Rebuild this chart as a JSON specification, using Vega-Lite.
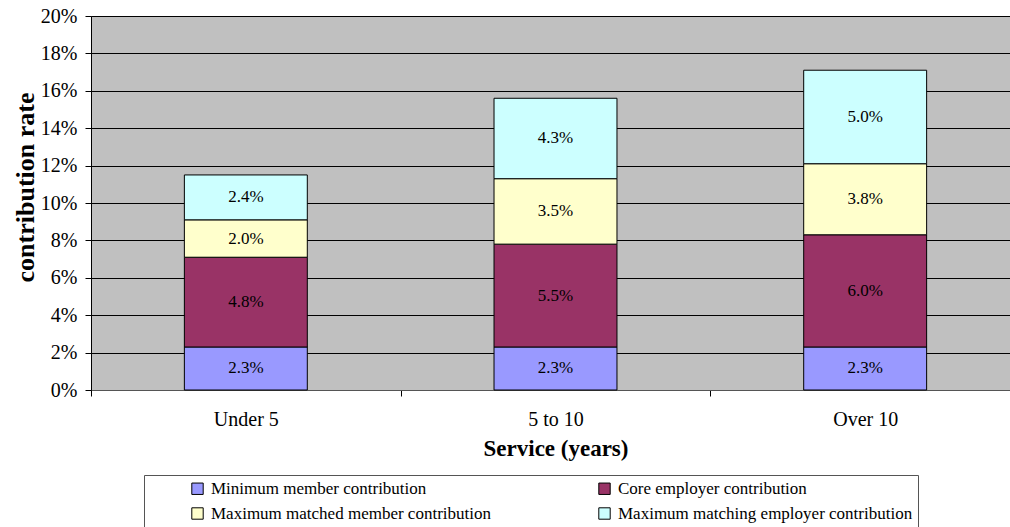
{
  "$schema": "https://vega.github.io/schema/vega-lite/v6.json",
  "width": 929,
  "height": 374,
  "autosize": {"type": "none"},
  "padding": {"left": 91, "top": 16, "right": 0, "bottom": 137},
  "background": "white",
  "config": {
    "font": "Liberation Serif",
    "view": {"fill": "#C0C0C0", "stroke": "#808080", "strokeWidth": 1},
    "axisY": {
      "format": ".0%",
      "labelFontSize": 20,
      "labelColor": "black",
      "labelPadding": 8,
      "labelOverlap": false,
      "tickColor": "black",
      "tickSize": 6,
      "domainColor": "black",
      "grid": true,
      "gridColor": "black",
      "gridOpacity": 1,
      "gridWidth": 1,
      "titleFontSize": 26,
      "titleFontWeight": "bold",
      "titleColor": "black",
      "titlePadding": 2,
      "titleY": 171
    }
  },
  "data": {
    "values": [
      {"service": "Under 5", "type": "Minimum member contribution", "order": 1, "rate": 0.023},
      {"service": "Under 5", "type": "Core employer contribution", "order": 2, "rate": 0.048},
      {"service": "Under 5", "type": "Maximum matched member contribution", "order": 3, "rate": 0.020},
      {"service": "Under 5", "type": "Maximum matching employer contribution", "order": 4, "rate": 0.024},
      {"service": "5 to 10", "type": "Minimum member contribution", "order": 1, "rate": 0.023},
      {"service": "5 to 10", "type": "Core employer contribution", "order": 2, "rate": 0.055},
      {"service": "5 to 10", "type": "Maximum matched member contribution", "order": 3, "rate": 0.035},
      {"service": "5 to 10", "type": "Maximum matching employer contribution", "order": 4, "rate": 0.043},
      {"service": "Over 10", "type": "Minimum member contribution", "order": 1, "rate": 0.023},
      {"service": "Over 10", "type": "Core employer contribution", "order": 2, "rate": 0.060},
      {"service": "Over 10", "type": "Maximum matched member contribution", "order": 3, "rate": 0.038},
      {"service": "Over 10", "type": "Maximum matching employer contribution", "order": 4, "rate": 0.050}
    ]
  },
  "transform": [
    {"stack": "rate", "groupby": ["service"], "sort": [{"field": "order"}], "as": ["y0", "y1"]},
    {"calculate": "(datum.y0 + datum.y1) / 2", "as": "ymid"}
  ],
  "encoding": {
    "x": {
      "field": "service",
      "type": "nominal",
      "sort": ["Under 5", "5 to 10", "Over 10"],
      "scale": {"paddingInner": 0, "paddingOuter": 0},
      "axis": {
        "title": "Service (years)",
        "labelAngle": 0,
        "labelFontSize": 20,
        "labelColor": "black",
        "labelPadding": 13,
        "tickBand": "extent",
        "tickColor": "black",
        "tickSize": 6,
        "domainColor": "#555555",
        "titleFontSize": 23,
        "titleFontWeight": "bold",
        "titleColor": "black",
        "titlePadding": 8,
        "grid": false
      }
    }
  },
  "layer": [
    {
      "mark": {"type": "bar", "stroke": "black", "strokeWidth": 1, "width": {"band": 0.397}},
      "encoding": {
        "y": {
          "field": "y0",
          "type": "quantitative",
          "scale": {"domain": [0, 0.2], "nice": false},
          "axis": {
            "title": "contribution rate",
            "values": [0, 0.02, 0.04, 0.06, 0.08, 0.1, 0.12, 0.14, 0.16, 0.18, 0.2]
          }
        },
        "y2": {"field": "y1"},
        "color": {
          "field": "type",
          "type": "nominal",
          "scale": {
            "domain": ["Minimum member contribution", "Maximum matched member contribution", "Core employer contribution", "Maximum matching employer contribution"],
            "range": ["#9999FF", "#FFFFCC", "#993366", "#CCFFFF"]
          },
          "legend": {
            "orient": "none",
            "legendX": 53,
            "legendY": 459,
            "title": " ",
            "titleOrient": "left",
            "titleFontSize": 1,
            "titlePadding": 40,
            "columns": 2,
            "columnPadding": 105,
            "rowPadding": 7,
            "padding": 5,
            "symbolType": "square",
            "symbolSize": 130,
            "symbolStrokeColor": "black",
            "symbolStrokeWidth": 1,
            "symbolOpacity": 1,
            "labelFontSize": 17,
            "labelColor": "black",
            "labelOffset": 5,
            "labelLimit": 500,
            "strokeColor": "#555555",
            "fillColor": "white"
          }
        },
        "order": {"field": "order"}
      }
    },
    {
      "mark": {"type": "text", "fontSize": 17, "color": "black", "baseline": "middle", "align": "center"},
      "encoding": {
        "y": {
          "field": "ymid",
          "type": "quantitative",
          "scale": {"domain": [0, 0.2], "nice": false},
          "axis": {
            "title": "contribution rate",
            "values": [0, 0.02, 0.04, 0.06, 0.08, 0.1, 0.12, 0.14, 0.16, 0.18, 0.2]
          }
        },
        "text": {"field": "rate", "type": "quantitative", "format": ".1%"}
      }
    }
  ]
}
